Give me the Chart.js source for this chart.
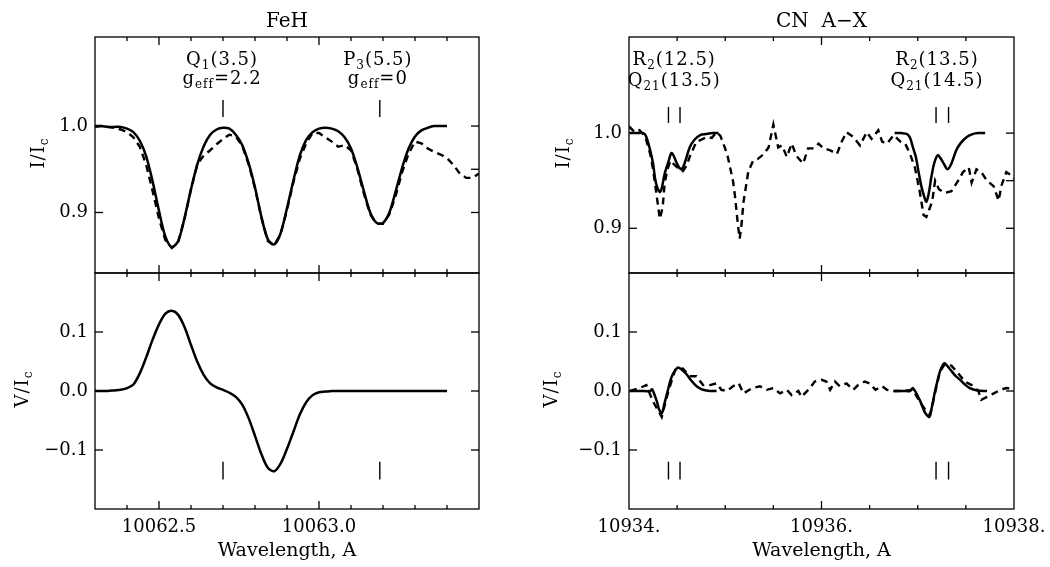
<!DOCTYPE html>
<html>
<head>
<meta charset="utf-8">
<script src="https://cdn.jsdelivr.net/npm/chart.js@4.4.1/dist/chart.umd.min.js"></script>
<style>
  html, body { margin: 0; padding: 0; background: #fff; }
  #page { position: relative; width: 1050px; height: 567px; overflow: hidden; background: #fff; }
  canvas { position: absolute; }
</style>
</head>
<body>
<div id="page">
  <canvas id="fehI" width="510" height="274" style="left:0;top:0"></canvas>
  <canvas id="fehV" width="510" height="295" style="left:0;top:272px"></canvas>
  <canvas id="cnI" width="530" height="274" style="left:520px;top:0"></canvas>
  <canvas id="cnV" width="530" height="295" style="left:520px;top:272px"></canvas>
</div>
<script>
// ---- FeH panel data (wavelength in A) ----
const fehWave = [
  10062.30, 10062.32, 10062.34, 10062.36, 10062.38, 10062.40, 10062.42, 10062.44, 10062.46, 10062.48,
  10062.50, 10062.52, 10062.54, 10062.56, 10062.58, 10062.60, 10062.62, 10062.64, 10062.66, 10062.68,
  10062.70, 10062.72, 10062.74, 10062.76, 10062.78, 10062.80, 10062.82, 10062.84, 10062.86, 10062.88,
  10062.90, 10062.92, 10062.94, 10062.96, 10062.98, 10063.00, 10063.02, 10063.04, 10063.06, 10063.08,
  10063.10, 10063.12, 10063.14, 10063.16, 10063.18, 10063.20, 10063.22, 10063.24, 10063.26, 10063.28,
  10063.30, 10063.32, 10063.34, 10063.36, 10063.38, 10063.40, 10063.42, 10063.44, 10063.46, 10063.48,
  10063.50
];
const fehISynth = [
  1.000, 1.000, 0.999, 0.999, 0.999, 0.997, 0.993, 0.983, 0.965, 0.936,
  0.902, 0.872, 0.860, 0.867, 0.894, 0.927, 0.956, 0.977, 0.990, 0.996,
  0.998, 0.997, 0.990, 0.978, 0.957, 0.929, 0.895, 0.869, 0.863, 0.876,
  0.905, 0.937, 0.966, 0.984, 0.993, 0.997, 0.998, 0.997, 0.994, 0.987,
  0.974, 0.952, 0.925, 0.900, 0.888, 0.888, 0.900, 0.925, 0.952, 0.974,
  0.988, 0.995, 0.998, 1.000, 1.000, 1.000
];
const fehIObs = [
  0.999, 1.000, 0.999, 0.998, 0.996, 0.993, 0.987, 0.976, 0.955, 0.925,
  0.893, 0.868, 0.859, 0.866, 0.893, 0.927, 0.956, 0.966, 0.972, 0.979,
  0.985, 0.990, 0.988, 0.977, 0.956, 0.928, 0.894, 0.867, 0.862, 0.875,
  0.903, 0.935, 0.962, 0.980, 0.992, 0.992, 0.987, 0.982, 0.976, 0.978,
  0.972, 0.950, 0.922, 0.898, 0.887, 0.887, 0.898, 0.920, 0.947, 0.968,
  0.982, 0.980, 0.974, 0.970, 0.967, 0.963, 0.955, 0.945, 0.940, 0.940,
  0.945
];
const fehVSynth = [
  0.000, 0.000, 0.000, 0.001, 0.002, 0.005, 0.011, 0.030, 0.057, 0.087,
  0.113, 0.131, 0.136, 0.129, 0.108, 0.078, 0.049, 0.027, 0.013, 0.006,
  0.002, -0.003, -0.010, -0.023, -0.046, -0.076, -0.107, -0.130, -0.136, -0.123,
  -0.098, -0.069, -0.040, -0.019, -0.007, -0.002, -0.001, 0.000, 0.000, 0.000,
  0.000, 0.000, 0.000, 0.000, 0.000, 0.000, 0.000, 0.000, 0.000, 0.000,
  0.000, 0.000, 0.000, 0.000, 0.000, 0.000
];
const fehLineWave = [10062.70, 10063.19];
const fehNoteWave = [10062.697, 10063.184];
const fehNotesTop = [['Q', '1', '(3.5)'], ['P', '3', '(5.5)']];
const fehNotesLow = [['g', 'eff', '=2.2'], ['g', 'eff', '=0']];

// ---- CN A-X panel data ----
const cnWaveSynth1 = [
  10934.01, 10934.08, 10934.15, 10934.18, 10934.22, 10934.25, 10934.27, 10934.29, 10934.32, 10934.34,
  10934.37, 10934.41, 10934.44, 10934.46, 10934.49, 10934.52, 10934.55, 10934.59, 10934.63, 10934.68,
  10934.74, 10934.80, 10934.87, 10934.93
];
const cnISynth1 = [
  1.000, 1.000, 1.000, 0.996, 0.982, 0.968, 0.953, 0.944, 0.938, 0.942,
  0.957, 0.970, 0.979, 0.977, 0.970, 0.964, 0.962, 0.972, 0.985, 0.993,
  0.998, 0.999, 1.000, 1.000
];
const cnWaveSynth2 = [
  10936.76, 10936.83, 10936.89, 10936.92, 10936.95, 10936.98, 10937.00, 10937.02, 10937.04, 10937.065,
  10937.09, 10937.115, 10937.14, 10937.165, 10937.19, 10937.21, 10937.24, 10937.27, 10937.31, 10937.35,
  10937.40, 10937.45, 10937.51, 10937.57, 10937.63, 10937.70
];
const cnISynth2 = [
  1.000, 1.000, 0.999, 0.995, 0.985, 0.975, 0.964, 0.953, 0.943, 0.934,
  0.928, 0.937, 0.953, 0.966, 0.974, 0.977, 0.973, 0.968, 0.962, 0.968,
  0.982, 0.990, 0.996, 0.999, 1.000, 1.000
];
const cnWaveObsI = [
  10934.00, 10934.06, 10934.11, 10934.17, 10934.22, 10934.25, 10934.27, 10934.30, 10934.32, 10934.35,
  10934.37, 10934.40, 10934.43, 10934.46, 10934.50, 10934.56, 10934.60, 10934.63, 10934.67, 10934.70,
  10934.75, 10934.81, 10934.86, 10934.91, 10934.95, 10934.98, 10935.02, 10935.05, 10935.08, 10935.10,
  10935.13, 10935.15, 10935.17, 10935.19, 10935.24, 10935.29, 10935.34, 10935.40, 10935.45, 10935.50,
  10935.55, 10935.59, 10935.64, 10935.69, 10935.74, 10935.81, 10935.86, 10935.92, 10935.97, 10936.02,
  10936.09, 10936.16, 10936.21, 10936.26, 10936.33, 10936.40, 10936.47, 10936.52, 10936.59, 10936.63,
  10936.68, 10936.75, 10936.82, 10936.87, 10936.92, 10936.97, 10937.02, 10937.06, 10937.09, 10937.12,
  10937.15, 10937.18, 10937.22, 10937.28, 10937.35, 10937.42, 10937.47, 10937.53, 10937.56, 10937.61,
  10937.66, 10937.72, 10937.79, 10937.84, 10937.87, 10937.92, 10937.98, 10938.00
];
const cnIObs = [
  1.007, 1.001, 1.003, 0.996, 0.978, 0.962, 0.947, 0.925, 0.910, 0.922,
  0.947, 0.962, 0.971, 0.968, 0.964, 0.960, 0.966, 0.975, 0.984, 0.991,
  0.993, 0.996, 0.995, 1.001, 0.997, 0.989, 0.978, 0.964, 0.950, 0.935,
  0.905, 0.889, 0.905, 0.928, 0.960, 0.971, 0.973, 0.978, 0.985, 1.009,
  0.985, 0.987, 0.975, 0.989, 0.976, 0.968, 0.984, 0.984, 0.989, 0.984,
  0.982, 0.978, 0.991, 1.001, 0.996, 0.987, 1.001, 0.994, 1.003, 0.991,
  0.989, 0.998, 0.991, 0.989, 0.978, 0.964, 0.939, 0.914, 0.912, 0.920,
  0.928, 0.950, 0.941, 0.937, 0.939, 0.950, 0.959, 0.964, 0.948, 0.962,
  0.959, 0.950, 0.944, 0.929, 0.945, 0.959, 0.955, 0.952
];
const cnWaveVSynth1 = [
  10934.01, 10934.12, 10934.22, 10934.24, 10934.29, 10934.31, 10934.34, 10934.37, 10934.41, 10934.43,
  10934.46, 10934.49, 10934.51, 10934.55, 10934.60, 10934.64, 10934.69, 10934.73, 10934.77, 10934.84,
  10934.91
];
const cnVSynth1 = [
  0.000, 0.000, 0.000, 0.003, -0.018, -0.030, -0.038, -0.020, 0.005, 0.018,
  0.030, 0.037, 0.040, 0.036, 0.028, 0.019, 0.010, 0.005, 0.002, 0.000,
  0.000
];
const cnWaveVSynth2 = [
  10936.75, 10936.85, 10936.92, 10936.95, 10937.02, 10937.07, 10937.10, 10937.12, 10937.15, 10937.18,
  10937.205, 10937.23, 10937.26, 10937.28, 10937.34, 10937.39, 10937.44, 10937.49, 10937.54, 10937.62,
  10937.72
];
const cnVSynth2 = [
  0.000, 0.000, 0.000, 0.005, -0.015, -0.035, -0.042, -0.044, -0.025, 0.000,
  0.017, 0.033, 0.044, 0.047, 0.036, 0.026, 0.019, 0.011, 0.005, 0.001,
  0.000
];
const cnWaveObsV = [
  10934.01, 10934.11, 10934.18, 10934.25, 10934.34, 10934.41, 10934.48, 10934.56, 10934.63, 10934.70,
  10934.77, 10934.84, 10934.91, 10934.96, 10935.02, 10935.08, 10935.14, 10935.19, 10935.28, 10935.36,
  10935.43, 10935.50, 10935.57, 10935.64, 10935.69, 10935.76, 10935.79, 10935.88, 10935.93, 10936.00,
  10936.05, 10936.09, 10936.14, 10936.19, 10936.26, 10936.33, 10936.38, 10936.45, 10936.50, 10936.56,
  10936.63, 10936.68, 10936.75, 10936.85, 10936.95, 10937.02, 10937.08, 10937.13, 10937.18, 10937.23,
  10937.28, 10937.35, 10937.42, 10937.49, 10937.56, 10937.63, 10937.66, 10937.72, 10937.79, 10937.86,
  10937.92, 10937.99
];
const cnVObs = [
  0.000, 0.005, 0.010, -0.018, -0.044, 0.000, 0.036, 0.038, 0.025, 0.025,
  0.010, 0.010, 0.013, 0.002, 0.000, 0.008, 0.013, -0.004, 0.005, 0.008,
  0.002, 0.005, -0.004, 0.002, -0.007, 0.000, -0.010, 0.005, 0.016, 0.019,
  0.016, 0.002, 0.016, 0.008, 0.013, 0.002, 0.010, 0.016, 0.013, 0.002,
  0.008, 0.002, 0.000, 0.000, 0.002, -0.018, -0.032, -0.040, -0.003, 0.033,
  0.045, 0.043, 0.030, 0.016, 0.010, 0.000, -0.015, -0.010, -0.004, 0.002,
  0.005, 0.003
];
const cnLineWave = [10934.41, 10934.53, 10937.19, 10937.32];
const cnNoteWave = [10934.47, 10937.20];
const cnNotesTop = [['R', '2', '(12.5)'], ['R', '2', '(13.5)']];
const cnNotesLow = [['Q', '21', '(13.5)'], ['Q', '21', '(14.5)']];

// ---- axis ticks ----
const fehXLabels = [10062.5, 10063.0];
const fehXMinor = [10062.4, 10062.6, 10062.7, 10062.8, 10062.9, 10063.1, 10063.2, 10063.3, 10063.4];
const cnXLabels = [10934, 10936, 10938];
const cnXMinor = [10934.5, 10935, 10935.5, 10936.5, 10937, 10937.5];
const iTicks = [0.9, 1.0];
const iTicksRight = [0.9, 0.95, 1.0];
const vTicks = [-0.1, 0.0, 0.1];

const SERIF = '"DejaVu Serif", "Liberation Serif", serif';
Chart.defaults.font.family = SERIF;
Chart.defaults.font.size = 18;
Chart.defaults.color = '#000';

const pts = (xs, ys) => ys.map((y, i) => ({ x: xs[i], y }));
const bars = (xs, lo, hi) => xs.flatMap((x) => [{ x, y: lo }, { x, y: hi }, { x, y: null }]);

const solid = (data) => ({ data, borderColor: '#000', borderWidth: 2.5, pointRadius: 0, tension: 0.3 });
const dashed = (data) => ({ data, borderColor: '#000', borderWidth: 2.4, pointRadius: 0, tension: 0, borderDash: [7, 5] });
const thin = (data) => ({ data, borderColor: '#000', borderWidth: 1.4, pointRadius: 0, tension: 0 });

const fmtY = (v) => (v < 0 ? '\u2212' : '') + Math.abs(v).toFixed(1);

// text with subscripts: segments alternate normal / subscript
function drawRich(ctx, segs, x, y, rot) {
  const main = '18px ' + SERIF;
  const sub = '12px ' + SERIF;
  ctx.save();
  ctx.translate(x, y);
  if (rot) ctx.rotate(rot);
  ctx.letterSpacing = '1px';
  ctx.fillStyle = '#000';
  ctx.textAlign = 'left';
  ctx.textBaseline = 'alphabetic';
  const widths = segs.map((s, i) => {
    ctx.font = i % 2 ? sub : main;
    return ctx.measureText(s).width;
  });
  let cx = -widths.reduce((a, b) => a + b, 0) / 2;
  segs.forEach((s, i) => {
    ctx.font = i % 2 ? sub : main;
    ctx.fillText(s, cx, i % 2 ? 4 : 0);
    cx += widths[i];
  });
  ctx.restore();
}

// box round the plot with inward ticks, as in the original figure
function framePlugin(cfg) {
  return {
    id: 'frame',
    afterDatasetsDraw(chart) {
      const { ctx, chartArea: a, scales: { x, y } } = chart;
      const seg = (x1, y1, x2, y2) => {
        ctx.beginPath();
        ctx.moveTo(x1, y1);
        ctx.lineTo(x2, y2);
        ctx.stroke();
      };
      ctx.save();
      ctx.strokeStyle = '#000';
      ctx.lineWidth = 1.3;
      ctx.strokeRect(a.left, a.top, a.right - a.left, a.bottom - a.top);
      cfg.xMajor.forEach((v) => {
        const px = x.getPixelForValue(v);
        seg(px, a.top, px, a.top + 8);
        seg(px, a.bottom, px, a.bottom - 8);
      });
      cfg.xMinor.forEach((v) => {
        const px = x.getPixelForValue(v);
        seg(px, a.top, px, a.top + 4);
        seg(px, a.bottom, px, a.bottom - 4);
      });
      cfg.yLeft.forEach((v) => {
        const py = y.getPixelForValue(v);
        seg(a.left, py, a.left + 8, py);
      });
      cfg.yRight.forEach((v) => {
        const py = y.getPixelForValue(v);
        seg(a.right, py, a.right - 8, py);
      });
      ctx.restore();
    }
  };
}

function notesPlugin(cfg) {
  return {
    id: 'notes',
    afterDraw(chart) {
      const { ctx, chartArea: a, scales: { x, y } } = chart;
      (cfg.notes || []).forEach((n) => {
        drawRich(ctx, n.segs, x.getPixelForValue(n.x), y.getPixelForValue(n.y), 0);
      });
      drawRich(ctx, cfg.yTitle, a.left - cfg.yTitleGap + 5, (a.top + a.bottom) / 2 - 2, -Math.PI / 2);
    }
  };
}

// the label overflow padding would shift the plot box, so it is dropped
const noOverflow = (s) => {
  s.paddingTop = 0;
  s.paddingBottom = 0;
  s.paddingLeft = 0;
  s.paddingRight = 0;
};

function panel(id, cfg) {
  const showX = !!cfg.xLabels;
  return new Chart(document.getElementById(id), {
    type: 'line',
    data: { datasets: cfg.datasets },
    options: {
      responsive: false,
      animation: false,
      events: [],
      layout: { padding: cfg.padding },
      plugins: {
        legend: { display: false },
        tooltip: { enabled: false },
        title: cfg.title
          ? { display: true, text: cfg.title, fullSize: false, color: '#000', font: { size: 20, weight: 'normal' }, padding: { top: 10, bottom: 3 } }
          : { display: false }
      },
      scales: {
        x: {
          type: 'linear',
          min: cfg.xRange[0],
          max: cfg.xRange[1],
          display: showX,
          grid: { display: false, drawTicks: false },
          border: { display: false },
          afterBuildTicks: (s) => { s.ticks = (cfg.xLabels || []).map((value) => ({ value })); },
          afterFit: (s) => {
            noOverflow(s);
            if (showX) s.height = 58;
          },
          ticks: { padding: 8, maxRotation: 0, autoSkip: false, callback: cfg.xFormat },
          title: { display: showX, text: 'Wavelength, A', color: '#000', font: { size: 19 }, padding: { top: 0, bottom: 5 } }
        },
        y: {
          type: 'linear',
          min: cfg.yRange[0],
          max: cfg.yRange[1],
          grid: { display: false, drawTicks: false },
          border: { display: false },
          afterBuildTicks: (s) => { s.ticks = cfg.yLabels.map((value) => ({ value })); },
          afterFit: (s) => {
            noOverflow(s);
            s.width = cfg.yWidth;
          },
          ticks: { padding: 7, autoSkip: false, callback: fmtY }
        }
      }
    },
    plugins: [framePlugin(cfg), notesPlugin(cfg)]
  });
}

const notesFor = (wave, top, low, yTop, yLow) =>
  wave.flatMap((x, i) => [{ x, y: yTop, segs: top[i] }, { x, y: yLow, segs: low[i] }]);

panel('fehI', {
  title: 'FeH',
  padding: { left: 0, right: 31, top: 0, bottom: 1 },
  yWidth: 95,
  xRange: [10062.3, 10063.5],
  yRange: [0.83, 1.103],
  yLabels: iTicks,
  xMajor: fehXLabels, xMinor: fehXMinor, yLeft: iTicks, yRight: iTicksRight,
  yTitle: ['I/I', 'c'], yTitleGap: 56,
  notes: notesFor(fehNoteWave, fehNotesTop, fehNotesLow, 1.0706, 1.0486),
  datasets: [
    solid(pts(fehWave, fehISynth)),
    dashed(pts(fehWave, fehIObs)),
    thin(bars(fehLineWave, 1.0105, 1.030))
  ]
});

panel('fehV', {
  padding: { left: 0, right: 31, top: 1, bottom: 0 },
  yWidth: 95,
  xRange: [10062.3, 10063.5],
  yRange: [-0.2, 0.2],
  yLabels: vTicks,
  xLabels: fehXLabels,
  xFormat: (v) => Number(v).toFixed(1),
  xMajor: fehXLabels, xMinor: fehXMinor, yLeft: vTicks, yRight: vTicks,
  yTitle: ['V/I', 'c'], yTitleGap: 72,
  datasets: [
    solid(pts(fehWave, fehVSynth)),
    thin(bars(fehLineWave, -0.12, -0.15))
  ]
});

panel('cnI', {
  title: 'CN  A\u2212X',
  padding: { left: 0, right: 36, top: 0, bottom: 1 },
  yWidth: 109,
  xRange: [10934, 10938],
  yRange: [0.853, 1.101],
  yLabels: iTicks,
  xMajor: [10936], xMinor: cnXMinor, yLeft: iTicks, yRight: iTicksRight,
  yTitle: ['I/I', 'c'], yTitleGap: 65,
  notes: notesFor(cnNoteWave, cnNotesTop, cnNotesLow, 1.0716, 1.0495),
  datasets: [
    solid(pts(cnWaveSynth1, cnISynth1)),
    solid(pts(cnWaveSynth2, cnISynth2)),
    dashed(pts(cnWaveObsI, cnIObs)),
    thin(bars(cnLineWave, 1.0106, 1.0274))
  ]
});

panel('cnV', {
  padding: { left: 0, right: 36, top: 1, bottom: 0 },
  yWidth: 109,
  xRange: [10934, 10938],
  yRange: [-0.2, 0.2],
  yLabels: vTicks,
  xLabels: cnXLabels,
  xFormat: (v) => Number(v).toFixed(0) + '.',
  xMajor: [10936], xMinor: cnXMinor, yLeft: vTicks, yRight: vTicks,
  yTitle: ['V/I', 'c'], yTitleGap: 77,
  datasets: [
    solid(pts(cnWaveVSynth1, cnVSynth1)),
    solid(pts(cnWaveVSynth2, cnVSynth2)),
    dashed(pts(cnWaveObsV, cnVObs)),
    thin(bars(cnLineWave, -0.12, -0.15))
  ]
});
</script>
</body>
</html>
